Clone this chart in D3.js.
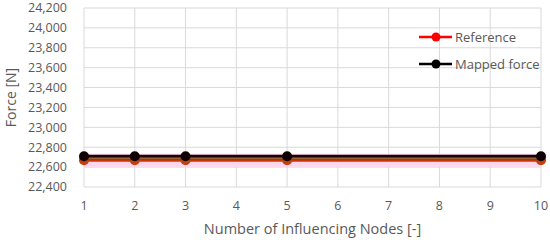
<!DOCTYPE html>
<html>
<head>
<meta charset="utf-8">
<script src="https://cdn.jsdelivr.net/npm/d3@7"></script>
<style>
  body { margin: 0; background: #fff; }
  text { font-family: "Open Sans", "Liberation Sans", sans-serif; fill: #595959; }
</style>
</head>
<body>
<script>
var nodes = [1, 2, 3, 5, 10];
var referenceForce = [22670, 22670, 22670, 22670, 22670];
var mappedForce = [22710, 22710, 22710, 22710, 22710];
var xTicks = [1, 2, 3, 4, 5, 6, 7, 8, 9, 10];
var yTicks = [22400, 22600, 22800, 23000, 23200, 23400, 23600, 23800, 24000, 24200];

var width = 550, height = 240;
var margin = { top: 8, right: 9, bottom: 53, left: 84 };
var innerW = width - margin.left - margin.right;
var innerH = height - margin.top - margin.bottom;

var svg = d3.select("body").append("svg")
    .attr("width", width)
    .attr("height", height);

var g = svg.append("g")
    .attr("transform", "translate(" + margin.left + "," + margin.top + ")");

var x = d3.scaleLinear().domain([1, 10]).range([0, innerW]);
var y = d3.scaleLinear().domain([22400, 24200]).range([innerH, 0]);

// grid
g.selectAll(".hgrid").data(yTicks).enter().append("line")
    .attr("x1", 0).attr("x2", innerW)
    .attr("y1", function (d) { return y(d); })
    .attr("y2", function (d) { return y(d); })
    .attr("stroke", "#d9d9d9").attr("stroke-width", 1);

g.selectAll(".vgrid").data(xTicks).enter().append("line")
    .attr("y1", 0).attr("y2", innerH)
    .attr("x1", function (d) { return x(d); })
    .attr("x2", function (d) { return x(d); })
    .attr("stroke", "#d9d9d9").attr("stroke-width", 1);

// axes labels
var fmt = d3.format(",");
g.selectAll(".ylab").data(yTicks).enter().append("text")
    .attr("x", -17)
    .attr("y", function (d) { return y(d); })
    .attr("dy", "0.35em")
    .attr("text-anchor", "end")
    .style("font-size", "12.5px")
    .text(function (d) { return fmt(d); });

g.selectAll(".xlab").data(xTicks).enter().append("text")
    .attr("x", function (d) { return x(d); })
    .attr("y", innerH + 23)
    .attr("text-anchor", "middle")
    .style("font-size", "12.5px")
    .text(function (d) { return d; });

svg.append("text")
    .attr("transform", "translate(16," + (margin.top + innerH / 2) + ") rotate(-90)")
    .attr("text-anchor", "middle")
    .style("font-size", "14px")
    .text("Force [N]");

svg.append("text")
    .attr("x", margin.left + innerW / 2)
    .attr("y", 234)
    .attr("text-anchor", "middle")
    .style("font-size", "14.5px")
    .text("Number of Influencing Nodes [-]");

var refData = nodes.map(function (n, i) { return { x: n, y: referenceForce[i] }; });
var mapData = nodes.map(function (n, i) { return { x: n, y: mappedForce[i] }; });

var line = d3.line()
    .x(function (d) { return x(d.x); })
    .y(function (d) { return y(d.y); });

// reference series (pink glow + red line)
g.append("path").datum(refData)
    .attr("d", line).attr("fill", "none")
    .attr("stroke", "#ffd6ec").attr("stroke-width", 13);
g.append("path").datum(refData)
    .attr("d", line).attr("fill", "none")
    .attr("stroke", "#e03000").attr("stroke-width", 3);
g.selectAll(".refdot").data(refData).enter().append("circle")
    .attr("cx", function (d) { return x(d.x); })
    .attr("cy", function (d) { return y(d.y); })
    .attr("r", 5).attr("fill", "#c04010");

// brownish blend line
g.append("path").datum(refData)
    .attr("d", line).attr("fill", "none")
    .attr("stroke", "#7a4a10").attr("stroke-width", 2)
    .attr("transform", "translate(0,-1)");

// mapped series
g.append("path").datum(mapData)
    .attr("d", line).attr("fill", "none")
    .attr("stroke", "#1a0008").attr("stroke-width", 3);
g.selectAll(".mapdot").data(mapData).enter().append("circle")
    .attr("cx", function (d) { return x(d.x); })
    .attr("cy", function (d) { return y(d.y); })
    .attr("r", 5).attr("fill", "#100005");

// legend
var legend = [
    { name: "Reference", color: "#ff0000", yPos: 37 },
    { name: "Mapped force", color: "#000000", yPos: 64 }
];
var lg = svg.selectAll(".legend").data(legend).enter().append("g");
lg.append("line")
    .attr("x1", 419).attr("x2", 452)
    .attr("y1", function (d) { return d.yPos; })
    .attr("y2", function (d) { return d.yPos; })
    .attr("stroke", function (d) { return d.color; })
    .attr("stroke-width", 2.5);
lg.append("circle")
    .attr("cx", 436)
    .attr("cy", function (d) { return d.yPos; })
    .attr("r", 4.5)
    .attr("fill", function (d) { return d.color; });
lg.append("text")
    .attr("x", 455)
    .attr("y", function (d) { return d.yPos; })
    .attr("dy", "0.35em")
    .style("font-size", "13px")
    .text(function (d) { return d.name; });
</script>
</body>
</html>
